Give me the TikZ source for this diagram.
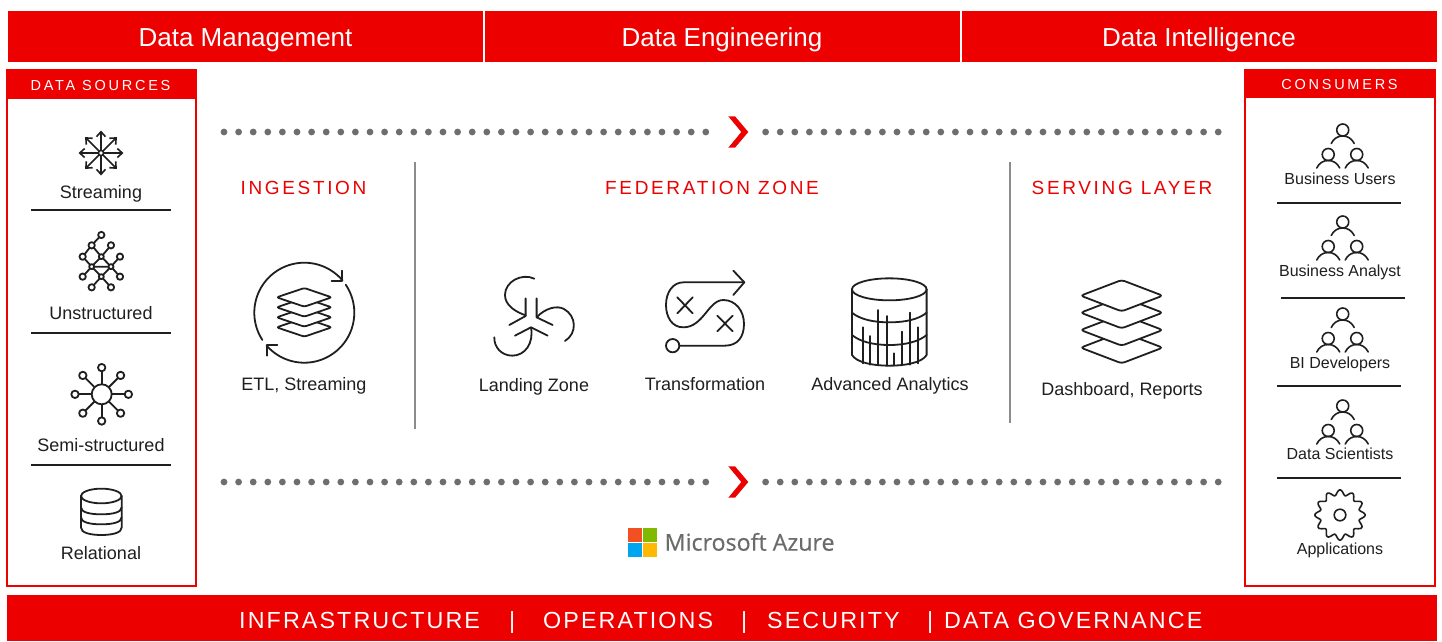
\documentclass[tikz,border=0pt]{standalone}
\usepackage{fontspec}
\usetikzlibrary{arrows.meta}
\setmainfont{Liberation Sans}
\newfontfamily\spacedA[LetterSpace=19]{Liberation Sans}
\newfontfamily\spacedB[LetterSpace=14]{Liberation Sans}
\newfontfamily\spacedC[LetterSpace=9]{Liberation Sans}
\newfontfamily\azurefont[FakeBold=0.5]{Open Sans}
\definecolor{brand}{HTML}{EC0000}
\definecolor{ink}{HTML}{1F1F1F}
\definecolor{dotc}{HTML}{6E6E6E}
\definecolor{msr}{HTML}{F25022}
\definecolor{msg}{HTML}{7FBA00}
\definecolor{msb}{HTML}{00A4EF}
\definecolor{msy}{HTML}{FFB900}
\tikzset{
  x=1pt,y=-1pt,
  icon/.style={draw=ink,line width=1.8pt,line cap=round,line join=round},
  thin icon/.style={draw=ink,line width=1.6pt,line cap=round,line join=round},
  rule/.style={draw=ink,line width=1.4pt},
  vrule/.style={draw=black!45,line width=1.1pt},
  bar/.style={fill=brand,draw=none},
  panel/.style={draw=brand,line width=1.8pt,fill=white},
  lab/.style={inner sep=0pt,yshift=-2pt,text=ink,text height=13pt,text depth=3.6pt,font=\fontsize{18}{20}\selectfont},
  smalllab/.style={inner sep=0pt,yshift=-1pt,text=ink,text height=11.6pt,text depth=3.2pt,font=\fontsize{16}{18}\selectfont},
  barlab/.style={inner sep=0pt,yshift=-2pt,text=white,text height=19pt,text depth=5.2pt,font=\fontsize{26}{30}\selectfont},
  headlab/.style={inner sep=0pt,yshift=-1pt,text=white,text height=11pt,text depth=3pt,font=\spacedA\fontsize{14.5}{16}\selectfont},
  zonelab/.style={inner sep=0pt,yshift=-2pt,text=brand,text height=13.7pt,text depth=3.8pt,font=\spacedB\fontsize{19}{22}\selectfont},
  footlab/.style={inner sep=0pt,yshift=-1.5pt,anchor=west,text=white,text height=17pt,text depth=4.7pt,font=\spacedC\fontsize{23.3}{26}\selectfont},
  person/.pic={
    \draw[thin icon] (0,0) circle (6);
    \draw[thin icon] (-11.5,13.5) .. controls (-9,8.5) and (-5,6) .. (0,6) .. controls (5,6) and (9,8.5) .. (11.5,13.5);
  },
  people/.pic={
    \pic at (0,0) {person};
    \pic at (-14.5,24.5) {person};
    \pic at (14,24.5) {person};
  },
  chevron/.pic={
    \fill[brand] (-9.7,-15.7) -- (-3,-15.7) -- (10.3,0) -- (-3,15.7) -- (-9.7,15.7) -- (3.3,0) -- cycle;
  },
}
\begin{document}
\begin{tikzpicture}
\useasboundingbox (0,0) rectangle (1442,641);
\fill[white] (0,0) rectangle (1442,641);

% top bar
\fill[bar] (8,11) rectangle (1437,62);
\draw[white,line width=1.6pt] (484,11) -- (484,62);
\draw[white,line width=1.6pt] (961,11) -- (961,62);
\node[barlab] (dm) at (245.5,37.5) {Data Management};
\node[barlab] (de) at (722,37.5) {Data Engineering};
\node[barlab] (di) at (1199,37.5) {Data Intelligence};

% bottom bar
\fill[bar] (7,595) rectangle (1437,641);
\node[footlab] (f1) at (239,620.5) {INFRASTRUCTURE};
\node[footlab] (s1) at (509,620.5) {|};
\node[footlab] (f2) at (543,620.5) {OPERATIONS};
\node[footlab] (s2) at (741,620.5) {|};
\node[footlab] (f3) at (767,620.5) {SECURITY};
\node[footlab] (s3) at (927,620.5) {|};
\node[footlab] (f4) at (944,620.5) {DATA GOVERNANCE};

% left panel
\draw[panel] (7,69.5) rectangle (196,586);
\fill[bar] (7,69.5) rectangle (196,99);
\node[headlab] (dsh) at (100.5,85) {DATA SOURCES};
\draw[rule] (31,210) -- (171,210);
\draw[rule] (31,333) -- (171,333);
\draw[rule] (31,465) -- (171,465);
\node[lab] (l1) at (101,192) {Streaming};
\node[lab] (l2) at (101,313) {Unstructured};
\node[lab] (l3) at (101,445) {Semi-structured};
\node[lab] (l4) at (101,553) {Relational};

% right panel
\draw[panel] (1245,69.5) rectangle (1435,586);
\fill[bar] (1245,69.5) rectangle (1435,98);
\node[headlab] (cnh) at (1339.5,84.5) {CONSUMERS};
\draw[rule] (1277,203) -- (1401,203);
\draw[rule] (1281,298) -- (1405,298);
\draw[rule] (1277,386) -- (1401,386);
\draw[rule] (1277,478) -- (1401,478);
\node[smalllab] (r1) at (1340,179) {Business Users};
\node[smalllab] (r2) at (1340,271) {Business Analyst};
\node[smalllab] (r3) at (1340,363) {BI Developers};
\node[smalllab] (r4) at (1340,454.5) {Data Scientists};
\node[smalllab] (r5) at (1340,549.5) {Applications};
\pic at (1342.7,130) {people};
\pic at (1342.7,222) {people};
\pic at (1342.7,314) {people};
\pic at (1342.7,406) {people};

% gear
\draw[thin icon] (1340,515) circle (5.8);
\draw[thin icon] plot[samples=289,domain=0:360] ({1340+(22.5+2.6*cos(12*\x))*cos(\x)},{515+(22.5+2.6*cos(12*\x))*sin(\x)}) -- cycle;

% dotted rows
\foreach \yy in {132,482} {
  \foreach \i in {0,...,33} \fill[dotc] ({224+14.6*\i},\yy) circle (3.4);
  \foreach \i in {0,...,31} \fill[dotc] ({765.6+14.6*\i},\yy) circle (3.4);
  \pic at (738,\yy) {chevron};
}

% vertical rules
\draw[vrule] (415,162) -- (415,429);
\draw[vrule] (1010,162) -- (1010,423);

% zone labels
\node[zonelab] (z1) at (303.5,188) {INGESTION};
\node[zonelab] (z2) at (712,188) {FEDERATION ZONE};
\node[zonelab] (z3) at (1122,188) {SERVING LAYER};

% middle labels
\node[lab] (m1) at (304,384) {ETL, Streaming};
\node[lab] (m2) at (534,385) {Landing Zone};
\node[lab] (m3) at (705,384) {Transformation};
\node[lab] (m4) at (890,384) {Advanced Analytics};
\node[lab] (m5) at (1122,388.5) {Dashboard, Reports};

% streaming icon
\begin{scope}[shift={(101,153)}]
  \foreach \a in {0,45,...,315}
    \draw[thin icon,-{Straight Barb[length=5pt,width=9pt]}] (\a:2.6) -- (\a:22.5);
  \draw[thin icon] (0,0) circle (2.6);
\end{scope}

% unstructured icon
\begin{scope}[shift={(0,60)},x=.3333pt,y=-.3333pt]
  \draw[icon]
    (304,525) -- (275,556) -- (248,590) -- (275,620) -- (304,590) -- (275,556)
    (333,556) -- (304,590) -- (333,620) -- (360,590)
    (275,620) -- (304,650) -- (333,620) -- (275,620) -- (248,650)
    (333,620) -- (360,650)
    (304,650) -- (275,682)
    (304,650) -- (333,682);
  \foreach \p in {(304,525),(275,556),(333,556),(248,590),(360,590),(248,650),(360,650),(275,682),(333,682)}
    \draw[icon,fill=white] \p circle (9.5);
  \foreach \p in {(304,590),(275,620),(333,620),(304,650)}
    \draw[icon,fill=white] \p circle (7.5);
\end{scope}

% semi-structured icon
\begin{scope}[shift={(101.7,394.3)}]
  \foreach \a in {0,45,...,315} {
    \draw[icon] (\a:10) -- (\a:23);
    \draw[icon,fill=white] (\a:26.7) circle (3.7);
  }
  \draw[icon,fill=white] (0,0) circle (10);
\end{scope}

% relational icon
\begin{scope}[shift={(0,340)},x=.3333pt,y=-.3333pt]
  \draw[icon] (304,468) circle [x radius=61,y radius=22];
  \draw[icon] (243,468) -- (243,563) .. controls (243,578) and (270,585) .. (304,585) .. controls (338,585) and (365,578) .. (365,563) -- (365,468);
  \draw[icon] (243,502) .. controls (243,517) and (270,523) .. (304,523) .. controls (338,523) and (365,517) .. (365,502);
  \draw[icon] (243,532) .. controls (243,547) and (270,553) .. (304,553) .. controls (338,553) and (365,547) .. (365,532);
\end{scope}

% ETL icon
\draw[icon] plot[samples=80,domain=147:320] ({304.3+50*cos(\x)},{312.7+50*sin(\x)});
\draw[icon] plot[samples=80,domain=326:499] ({304.3+50*cos(\x)},{312.7+50*sin(\x)});
\begin{scope}[shift={(220,240)},x=.3333pt,y=-.3333pt]
  \draw[icon] (335,122) -- (367,122) -- (367,92);
  \draw[icon] (172,315) -- (140,315) -- (140,347);
  \foreach \c in {262,232,202,172}
    \draw[icon,fill=white,rounded corners=2.2pt] (170,\c) -- (253,{\c-28}) -- (335,\c) -- (253,{\c+28}) -- cycle;
\end{scope}

% landing zone icon
\begin{scope}[shift={(220,240)},x=.3333pt,y=-.3333pt]
  \draw[icon] (917,175) -- (917,228) -- (868,255);
  \draw[icon] (950,175) -- (950,232) -- (998,255);
  \draw[icon] (885,287) -- (933,262) -- (983,287);
  \draw[icon] (943,116) .. controls (905,98) and (855,125) .. (855,165) .. controls (855,195) and (885,215) .. (917,226);
  \draw[icon] (950,232) .. controls (975,205) and (1010,195) .. (1032,207) .. controls (1070,228) and (1072,280) .. (1035,303);
  \draw[icon] (933,262) .. controls (942,310) and (915,347) .. (877,347) .. controls (845,347) and (822,322) .. (823,292);
\end{scope}

% transformation icon
\begin{scope}[shift={(640,250)},x=.3333pt,y=-.3333pt]
  \draw[icon] (98,287) circle (20);
  \draw[icon] (118,287) -- (255,287) .. controls (292,287) and (312,262) .. (312,222) .. controls (312,180) and (285,150) .. (250,150) .. controls (205,150) and (190,232) .. (130,232) .. controls (95,232) and (78,200) .. (78,165) .. controls (78,125) and (100,97) .. (130,97) -- (313,97);
  \draw[icon] (280,62) -- (313,97) -- (280,135);
  \draw[icon] (112,142) -- (158,190) (158,142) -- (112,190);
  \draw[icon] (232,197) -- (278,244) (278,197) -- (232,244);
\end{scope}

% analytics icon
\begin{scope}[shift={(640,250)},x=.3333pt,y=-.3333pt]
  \draw[icon] (748,118) circle [x radius=112,y radius=33];
  \draw[icon] (636,118) -- (636,315) .. controls (650,338) and (700,347) .. (748,347) .. controls (796,347) and (846,338) .. (860,315) -- (860,118);
  \draw[icon] (636,188) .. controls (660,208) and (700,217) .. (748,217) .. controls (796,217) and (836,208) .. (860,188);
  \draw[icon] (636,255) .. controls (660,275) and (700,285) .. (748,285) .. controls (796,285) and (836,275) .. (860,255);
  \draw[icon] (668,232) -- (668,340) (690,258) -- (690,344) (715,180) -- (715,346) (740,198) -- (740,347) (762,310) -- (762,347) (785,245) -- (785,346) (810,188) -- (810,344) (835,232) -- (835,340);
\end{scope}

% serving stack icon
\begin{scope}[shift={(1060,270)},x=.3333pt,y=-.3333pt]
  \foreach \c in {233,180,128,77}
    \draw[icon,fill=white,rounded corners=3pt] (62,\c) -- (185,{\c-47}) -- (308,\c) -- (185,{\c+47}) -- cycle;
\end{scope}

% azure logo
\fill[msr] (627.7,527.7) rectangle (641.7,541.7);
\fill[msg] (643.3,527.7) rectangle (657.3,541.7);
\fill[msb] (627.7,543.3) rectangle (641.7,556.7);
\fill[msy] (643.3,543.3) rectangle (657.3,556.7);
\node[inner sep=0pt,yshift=-2pt,anchor=west,text=black!58,text height=17pt,text depth=4.7pt,font=\azurefont\fontsize{23.2}{26}\selectfont] (az) at (664.5,542.5) {Microsoft Azure};
\end{tikzpicture}
\end{document}
